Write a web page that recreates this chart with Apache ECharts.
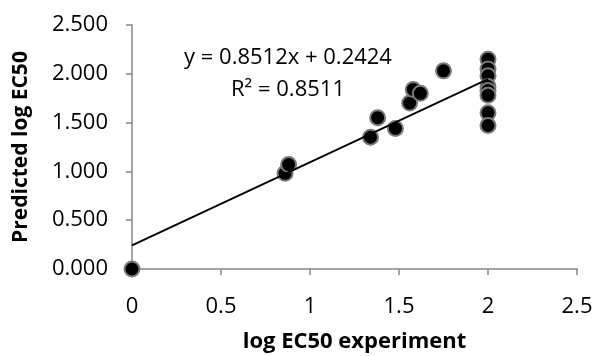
<!DOCTYPE html>
<html>
<head>
<meta charset="utf-8">
<script src="https://cdn.jsdelivr.net/npm/echarts@6/dist/echarts.min.js"></script>
<style>
  html, body { margin: 0; padding: 0; background: #fff; }
  #chart { width: 595px; height: 356px; }
</style>
</head>
<body>
<div id="chart"></div>
<script>
const expX = [0, 0.86, 0.88, 1.34, 1.38, 1.48, 1.56, 1.58, 1.62, 1.75, 2, 2, 2, 2, 2, 2, 2, 2];
const predY = [0, 0.98, 1.07, 1.35, 1.55, 1.44, 1.70, 1.84, 1.80, 2.03, 2.15, 2.05, 1.98, 1.87, 1.83, 1.78, 1.60, 1.47];

// linear trendline ends
const trendX = [0, 2];
const trendY = [0.2424, 1.9448];

const eqText = 'y = 0.8512x + 0.2424';
const r2Text = 'R² = 0.8511';

const font = '"Open Sans", sans-serif';
const axisGray = '#868686';

const chart = echarts.init(document.getElementById('chart'));

chart.setOption({
  animation: false,
  grid: { left: 132, right: 18, top: 25, bottom: 87, outerBoundsMode: 'none' },
  xAxis: {
    type: 'value',
    min: 0,
    max: 2.5,
    interval: 0.5,
    name: 'log EC50 experiment',
    nameLocation: 'middle',
    nameGap: 62,
    nameTextStyle: { fontFamily: font, fontSize: 22, fontWeight: 'bold', color: '#000' },
    axisLine: { lineStyle: { color: axisGray, width: 1.5 } },
    axisTick: { show: true, length: 6, lineStyle: { color: axisGray, width: 1.5 } },
    axisLabel: { fontFamily: font, fontSize: 22, color: '#000', margin: 27 },
    splitLine: { show: false }
  },
  yAxis: {
    type: 'value',
    min: 0,
    max: 2.5,
    interval: 0.5,
    name: 'Predicted log EC50',
    nameLocation: 'middle',
    nameGap: 100,
    nameTextStyle: { fontFamily: font, fontSize: 21, fontWeight: 'bold', color: '#000' },
    axisLine: { show: true, lineStyle: { color: axisGray, width: 1.5 } },
    axisTick: { show: true, length: 6, lineStyle: { color: axisGray, width: 1.5 } },
    axisLabel: {
      fontFamily: font, fontSize: 22, color: '#000', margin: 24,
      formatter: v => v.toFixed(3)
    },
    splitLine: { show: false }
  },
  series: [
    {
      type: 'scatter',
      data: expX.map((x, i) => [x, predY[i]]),
      symbol: 'circle',
      symbolSize: 15,
      itemStyle: { color: '#000', borderColor: '#7a7a7a', borderWidth: 2, opacity: 1 },
      z: 2
    },
    {
      type: 'line',
      data: trendX.map((x, i) => [x, trendY[i]]),
      showSymbol: false,
      lineStyle: { color: '#000', width: 1.8 },
      z: 3
    }
  ],
  graphic: [
    {
      type: 'text', x: 288, y: 47,
      style: { text: eqText, fontFamily: font, fontSize: 22, fill: '#000', textAlign: 'center' }
    },
    {
      type: 'text', x: 288, y: 79,
      style: { text: r2Text, fontFamily: font, fontSize: 22, fill: '#000', textAlign: 'center' }
    }
  ]
});
</script>
</body>
</html>
